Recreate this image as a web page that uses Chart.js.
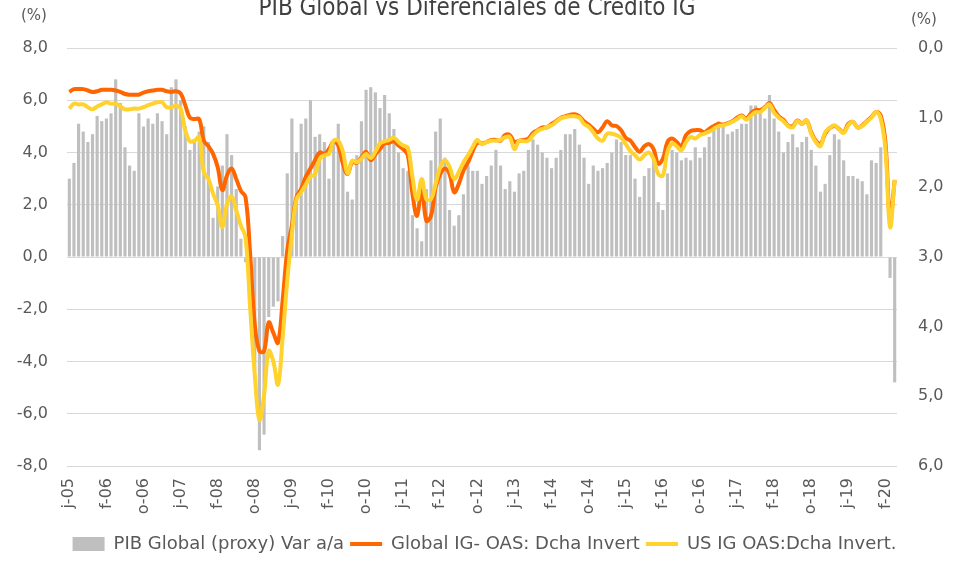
<!DOCTYPE html>
<html>
<head>
<meta charset="utf-8">
<script src="https://cdn.jsdelivr.net/npm/chart.js@4.4.1/dist/chart.umd.min.js"></script>
<style>
  html, body { margin: 0; padding: 0; background: #fff; }
</style>
</head>
<body>
<canvas id="grafico" width="969" height="563"></canvas>
<script>
// datos mensuales jun-05 .. abr-20
const inicialesMes = ['e', 'f', 'm', 'a', 'm', 'j', 'j', 'a', 's', 'o', 'n', 'd'];
const meses = [];
for (let k = 0; k < 179; k++) {
    const m = (5 + k) % 12;
    const a = 2005 + Math.floor((5 + k) / 12);
    meses.push(inicialesMes[m] + '-' + String(a).slice(2));
}

// etiquetas del eje X (una cada 8 meses)
const etiquetasEje = ['j-05', 'f-06', 'o-06', 'j-07', 'f-08', 'o-08', 'j-09', 'f-10', 'o-10', 'j-11', 'f-12',
    'o-12', 'j-13', 'f-14', 'o-14', 'j-15', 'f-16', 'o-16', 'j-17', 'f-18', 'o-18', 'j-19', 'f-20'];

// PIB Global (proxy) Var a/a  (eje izquierdo)
const pibGlobal = [
    3.0, 3.6, 5.1, 4.8, 4.4, 4.7, 5.4, 5.2, 5.3, 5.5, 6.8, 5.9, 4.2, 3.5, 3.3, 5.5, 5.0, 5.3, 5.1, 5.5,
    5.2, 4.7, 6.5, 6.8, 6.0, 5.0, 4.1, 4.5, 4.8, 5.0, 4.4, 1.5, 2.7, 3.5, 4.7, 3.9, 2.6, 0.7, -0.2, -2.0,
    -4.3, -7.4, -6.8, -2.3, -1.9, -1.7, 0.8, 3.2, 5.3, 4.0, 5.1, 5.3, 6.0, 4.6, 4.7, 4.4, 3.0, 4.5, 5.1, 3.6,
    2.5, 2.2, 3.9, 5.2, 6.4, 6.5, 6.3, 5.7, 6.2, 5.5, 4.9, 4.0, 3.4, 3.3, 1.6, 1.1, 0.6, 2.6, 3.7, 4.8,
    5.3, 3.8, 1.8, 1.2, 1.6, 2.4, 3.5, 3.3, 3.3, 2.8, 3.1, 3.5, 4.1, 3.5, 2.6, 2.9, 2.5, 3.2, 3.3, 4.1,
    4.5, 4.3, 4.0, 3.8, 3.4, 3.8, 4.1, 4.7, 4.7, 4.9, 4.3, 3.8, 2.8, 3.5, 3.3, 3.4, 3.6, 4.0, 4.5, 4.4,
    3.9, 3.9, 3.0, 2.3, 3.1, 3.4, 3.7, 2.1, 1.8, 3.2, 4.1, 4.0, 3.7, 3.8, 3.7, 4.2, 3.8, 4.2, 4.6, 4.9,
    5.2, 5.0, 4.7, 4.8, 4.9, 5.1, 5.1, 5.8, 5.8, 5.5, 5.3, 6.2, 5.3, 4.8, 4.0, 4.4, 4.7, 4.2, 4.4, 4.6,
    4.1, 3.5, 2.5, 2.8, 3.9, 4.7, 4.5, 3.7, 3.1, 3.1, 3.0, 2.9, 2.4, 3.7, 3.6, 4.2, null, -0.8, -4.8
];

// Global IG- OAS (eje derecho invertido)
const globalIG = [
    0.63, 0.59, 0.59, 0.59, 0.61, 0.63, 0.62, 0.60, 0.60, 0.60, 0.61, 0.63, 0.66, 0.67, 0.67, 0.67, 0.64, 0.62, 0.61, 0.60,
    0.60, 0.62, 0.63, 0.62, 0.65, 0.82, 1.00, 1.02, 1.02, 1.33, 1.41, 1.52, 1.71, 2.04, 1.83, 1.73, 1.88, 2.05, 2.14, 2.96,
    3.97, 4.35, 4.35, 3.94, 4.09, 4.23, 3.63, 2.91, 2.55, 2.14, 2.02, 1.85, 1.73, 1.61, 1.50, 1.52, 1.45, 1.34, 1.40, 1.66,
    1.81, 1.64, 1.65, 1.57, 1.49, 1.61, 1.53, 1.45, 1.37, 1.36, 1.34, 1.40, 1.45, 1.54, 2.09, 2.41, 2.00, 2.48, 2.41, 2.00,
    1.81, 1.73, 1.81, 2.07, 1.95, 1.76, 1.64, 1.48, 1.36, 1.37, 1.35, 1.32, 1.32, 1.33, 1.25, 1.25, 1.35, 1.33, 1.32, 1.30,
    1.22, 1.18, 1.14, 1.14, 1.09, 1.05, 1.00, 0.98, 0.96, 0.95, 0.98, 1.05, 1.10, 1.16, 1.21, 1.14, 1.05, 1.11, 1.12, 1.18,
    1.29, 1.33, 1.42, 1.49, 1.41, 1.38, 1.45, 1.66, 1.59, 1.35, 1.30, 1.35, 1.41, 1.25, 1.19, 1.18, 1.18, 1.21, 1.16, 1.12,
    1.09, 1.10, 1.08, 1.05, 1.00, 0.97, 1.01, 0.94, 0.89, 0.89, 0.85, 0.79, 0.89, 0.98, 1.03, 1.11, 1.12, 1.04, 1.09, 1.04,
    1.21, 1.33, 1.38, 1.23, 1.15, 1.12, 1.16, 1.21, 1.09, 1.06, 1.14, 1.11, 1.05, 0.99, 0.92, 0.97, 1.35, 2.45, 1.90
];

// US IG OAS (eje derecho invertido)
const usIG = [
    0.87, 0.80, 0.81, 0.81, 0.85, 0.88, 0.84, 0.81, 0.78, 0.80, 0.80, 0.84, 0.88, 0.88, 0.87, 0.87, 0.85, 0.82, 0.80, 0.78,
    0.78, 0.85, 0.85, 0.83, 0.87, 1.18, 1.34, 1.33, 1.28, 1.78, 1.88, 2.09, 2.26, 2.57, 2.24, 2.13, 2.33, 2.55, 2.72, 3.73,
    4.69, 5.34, 4.98, 4.35, 4.50, 4.83, 4.16, 3.34, 2.67, 2.17, 2.07, 1.96, 1.85, 1.81, 1.59, 1.54, 1.52, 1.33, 1.33, 1.49,
    1.80, 1.62, 1.64, 1.59, 1.52, 1.58, 1.49, 1.37, 1.34, 1.32, 1.29, 1.35, 1.40, 1.43, 1.85, 2.18, 1.88, 2.17, 2.17, 1.95,
    1.71, 1.61, 1.71, 1.88, 1.78, 1.64, 1.54, 1.42, 1.32, 1.38, 1.35, 1.33, 1.33, 1.32, 1.28, 1.28, 1.45, 1.33, 1.34, 1.33,
    1.25, 1.19, 1.16, 1.14, 1.11, 1.06, 1.01, 0.99, 0.98, 0.98, 1.00, 1.09, 1.13, 1.21, 1.30, 1.33, 1.23, 1.23, 1.25, 1.29,
    1.38, 1.48, 1.54, 1.60, 1.54, 1.50, 1.59, 1.81, 1.83, 1.49, 1.37, 1.41, 1.47, 1.35, 1.28, 1.30, 1.25, 1.23, 1.20, 1.16,
    1.12, 1.11, 1.09, 1.06, 1.02, 0.98, 1.03, 0.97, 0.92, 0.92, 0.86, 0.81, 0.93, 1.00, 1.05, 1.12, 1.14, 1.05, 1.09, 1.04,
    1.23, 1.35, 1.41, 1.21, 1.15, 1.11, 1.17, 1.22, 1.11, 1.06, 1.14, 1.12, 1.06, 1.00, 0.92, 1.02, 1.45, 2.57, 1.89
];

const fuente = '"DejaVu Sans", sans-serif';
const gris = '#595959';

// título y "(%)" fuera del área del gráfico
const textosExtra = {
    id: 'textosExtra',
    afterDraw(chart) {
        const ctx = chart.ctx;
        ctx.save();
        ctx.fillStyle = '#404040';
        ctx.font = '24px "Liberation Sans Narrow", "DejaVu Sans Condensed", sans-serif';
        ctx.textAlign = 'center';
        ctx.textBaseline = 'alphabetic';
        ctx.fillText('PIB Global vs Diferenciales de Crédito IG', 477, 15);
        ctx.fillStyle = gris;
        ctx.font = '15px ' + fuente;
        ctx.textBaseline = 'middle';
        ctx.textAlign = 'left';
        ctx.fillText('(%)', 21, 16);
        ctx.fillText('(%)', 911, 20);
        ctx.restore();
    }
};

function formatoComa(v) {
    return v.toFixed(1).replace('.', ',');
}

const ctx = document.getElementById('grafico').getContext('2d');
new Chart(ctx, {
    data: {
        labels: meses,
        datasets: [
            {
                type: 'bar',
                label: 'PIB Global (proxy) Var a/a',
                data: pibGlobal,
                backgroundColor: '#bfbfbf',
                barPercentage: 0.68,
                categoryPercentage: 1,
                yAxisID: 'y',
                pointStyle: 'rect',
                order: 3
            },
            {
                type: 'line',
                label: 'Global IG- OAS: Dcha Invert',
                data: globalIG,
                borderColor: '#ff6600',
                backgroundColor: '#ff6600',
                borderWidth: 4,
                pointRadius: 0,
                tension: 0.4,
                yAxisID: 'y1',
                pointStyle: 'line',
                order: 2
            },
            {
                type: 'line',
                label: 'US IG OAS:Dcha Invert.',
                data: usIG,
                borderColor: '#ffd22e',
                backgroundColor: '#ffd22e',
                borderWidth: 4,
                pointRadius: 0,
                tension: 0.4,
                yAxisID: 'y1',
                pointStyle: 'line',
                order: 1
            }
        ]
    },
    options: {
        responsive: false,
        animation: false,
        layout: { padding: { top: 48, bottom: 0, left: 0, right: 0 } },
        scales: {
            x: {
                type: 'category',
                offset: true,
                grid: { display: false, drawTicks: false },
                border: { display: false },
                ticks: {
                    autoSkip: false,
                    minRotation: 90,
                    maxRotation: 90,
                    padding: 12,
                    color: gris,
                    font: { family: fuente, size: 16 },
                    callback: (v, i) => (i % 8 === 0 ? etiquetasEje[i / 8] : '')
                },
                afterFit: (s) => { s.height = 63; }
            },
            y: {
                position: 'left',
                min: -8,
                max: 8,
                grid: { color: '#d9d9d9', drawTicks: false },
                border: { display: false },
                ticks: {
                    stepSize: 2,
                    padding: 19,
                    color: gris,
                    font: { family: fuente, size: 16 },
                    callback: (v) => formatoComa(v)
                },
                afterFit: (s) => { s.width = 67; }
            },
            y1: {
                position: 'right',
                min: 0,
                max: 6,
                reverse: true,
                grid: { display: false, drawTicks: false },
                border: { display: false },
                ticks: {
                    stepSize: 1,
                    padding: 21,
                    color: gris,
                    font: { family: fuente, size: 16 },
                    callback: (v) => formatoComa(v)
                },
                afterFit: (s) => { s.width = 72; }
            }
        },
        plugins: {
            legend: {
                position: 'bottom',
                labels: {
                    usePointStyle: true,
                    pointStyleWidth: 32,
                    boxHeight: 14,
                    padding: 6,
                    color: gris,
                    font: { family: fuente, size: 18 },
                    sort: (a, b) => a.datasetIndex - b.datasetIndex
                }
            },
            tooltip: { enabled: false }
        }
    },
    plugins: [textosExtra]
});
</script>
</body>
</html>
